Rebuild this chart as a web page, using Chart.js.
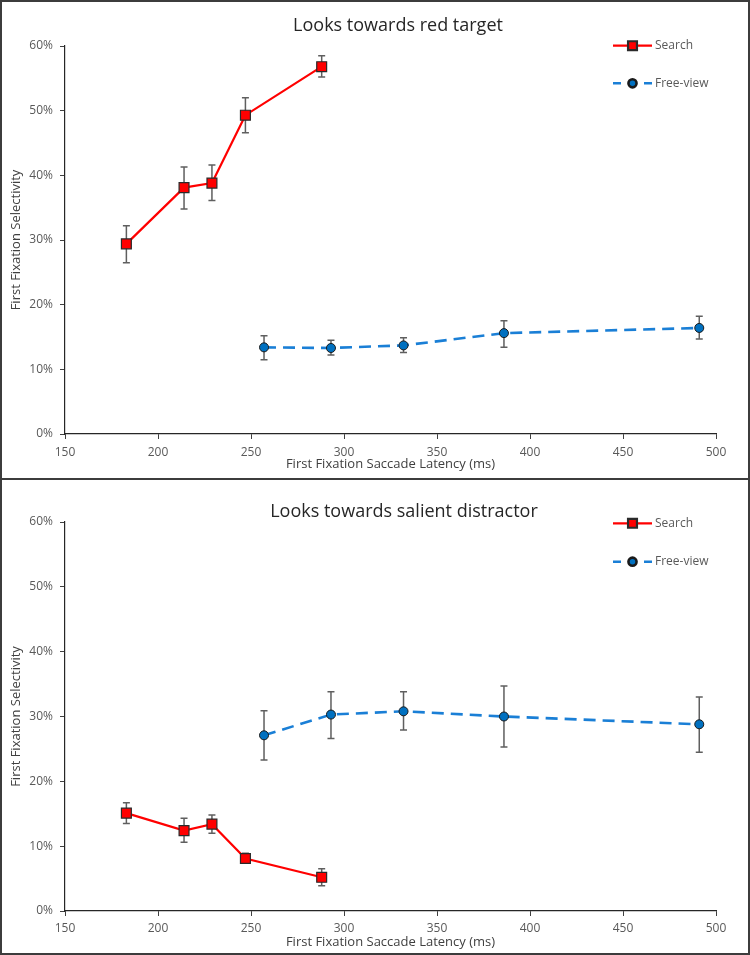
<!DOCTYPE html>
<html>
<head>
<meta charset="utf-8">
<title>First Fixation Selectivity</title>
<script src="https://cdn.jsdelivr.net/npm/chart.js@4.4.0/dist/chart.umd.min.js"></script>
<style>
    body { margin: 0; background: #fff; }
    .panel { position: relative; box-sizing: border-box; width: 750px; border: 2px solid #3c3c3c; background: #fff; }
    #panelTop { height: 480px; }
    #panelBottom { height: 477px; margin-top: -2px; }
    canvas { display: block; }
</style>
</head>
<body>
<div class="panel" id="panelTop"><canvas id="chartTarget" width="746" height="476"></canvas></div>
<div class="panel" id="panelBottom"><canvas id="chartDistractor" width="746" height="473"></canvas></div>
<script>
// 横軸（潜時 ms）
const latencySearch = [183, 214, 229, 247, 288];
const latencyFreeView = [257, 293, 332, 386, 491];
const latencyTicks = [150, 200, 250, 300, 350, 400, 450, 500];
const selectivityTicks = [0, 10, 20, 30, 40, 50, 60];

// 上段：赤ターゲット
const targetSearch = [29.4, 38.1, 38.8, 49.3, 56.8];
const targetSearchHigh = [32.2, 41.3, 41.6, 52.0, 58.5];
const targetSearchLow = [26.5, 34.8, 36.1, 46.6, 55.2];
const targetFree = [13.4, 13.3, 13.7, 15.6, 16.4];
const targetFreeHigh = [15.2, 14.5, 14.9, 17.5, 18.2];
const targetFreeLow = [11.5, 12.2, 12.6, 13.4, 14.7];

// 下段：顕著なディストラクタ
const distractorSearch = [15.1, 12.4, 13.4, 8.1, 5.2];
const distractorSearchHigh = [16.7, 14.3, 14.8, 8.9, 6.5];
const distractorSearchLow = [13.5, 10.6, 12.0, 7.4, 3.9];
const distractorFree = [27.1, 30.3, 30.8, 30.0, 28.8];
const distractorFreeHigh = [30.9, 33.8, 33.8, 34.7, 33.0];
const distractorFreeLow = [23.3, 26.6, 27.9, 25.3, 24.5];

const FONT = '"Open Sans", "Noto Sans", sans-serif';

// エラーバー描画
const errorBarPlugin = {
    id: 'errorBars',
    beforeDatasetsDraw(chart) {
        const ctx = chart.ctx;
        const xScale = chart.scales.x;
        const yScale = chart.scales.y;
        ctx.save();
        ctx.strokeStyle = '#5f5f5f';
        ctx.lineWidth = 1.5;
        chart.data.datasets.forEach(ds => {
            ds.data.forEach((pt, i) => {
                const x = xScale.getPixelForValue(pt.x);
                const yHi = yScale.getPixelForValue(ds.errorHigh[i]);
                const yLo = yScale.getPixelForValue(ds.errorLow[i]);
                ctx.beginPath();
                ctx.moveTo(x, yHi);
                ctx.lineTo(x, yLo);
                ctx.moveTo(x - 3.5, yHi);
                ctx.lineTo(x + 3.5, yHi);
                ctx.moveTo(x - 3.5, yLo);
                ctx.lineTo(x + 3.5, yLo);
                ctx.stroke();
            });
        });
        ctx.restore();
    }
};

// タイトルと凡例（グラフ領域の内側に重ねる）
const panelDecorPlugin = {
    id: 'panelDecor',
    afterDraw(chart, args, opts) {
        const ctx = chart.ctx;
        ctx.save();
        ctx.fillStyle = '#262626';
        ctx.font = '18px ' + FONT;
        ctx.textAlign = 'center';
        ctx.textBaseline = 'middle';
        ctx.fillText(opts.title, opts.titleX, opts.titleY);

        chart.data.datasets.forEach((ds, i) => {
            const y = opts.legendY[i];
            const x0 = opts.legendX;
            const x1 = x0 + 39;
            ctx.strokeStyle = ds.borderColor;
            ctx.lineWidth = ds.borderWidth;
            ctx.setLineDash(ds.borderDash ? [8, 23] : []);
            ctx.beginPath();
            ctx.moveTo(x0, y);
            ctx.lineTo(x1, y);
            ctx.stroke();
            ctx.setLineDash([]);
            ctx.fillStyle = ds.pointBackgroundColor;
            ctx.strokeStyle = ds.pointBorderColor;
            Chart.helpers.drawPoint(ctx, {
                pointStyle: ds.pointStyle,
                radius: ds.pointRadius * 0.9,
                borderWidth: ds.pointBorderWidth,
                rotation: 0
            }, (x0 + x1) / 2, y);
            ctx.fillStyle = '#595959';
            ctx.font = '12px ' + FONT;
            ctx.textAlign = 'left';
            ctx.fillText(ds.label, x1 + 3, y);
        });
        ctx.restore();
    }
};

function toPoints(xs, ys) {
    return xs.map((x, i) => ({ x: x, y: ys[i] }));
}

function searchDataset(values, high, low) {
    return {
        label: 'Search',
        data: toPoints(latencySearch, values),
        errorHigh: high,
        errorLow: low,
        borderColor: '#ff0000',
        borderWidth: 2.2,
        pointStyle: 'rect',
        pointRadius: 7,
        pointBackgroundColor: '#ff0000',
        pointBorderColor: '#2a2a2a',
        pointBorderWidth: 1.2,
        tension: 0
    };
}

function freeViewDataset(values, high, low) {
    return {
        label: 'Free-view',
        data: toPoints(latencyFreeView, values),
        errorHigh: high,
        errorLow: low,
        borderColor: '#1a7fd6',
        borderWidth: 2.6,
        borderDash: [12, 7],
        pointStyle: 'circle',
        pointRadius: 4.5,
        pointBackgroundColor: '#0070c0',
        pointBorderColor: '#1a1a1a',
        pointBorderWidth: 1,
        tension: 0
    };
}

function makeChart(canvasId, datasets, cfg) {
    const ctx = document.getElementById(canvasId).getContext('2d');
    return new Chart(ctx, {
        type: 'line',
        data: { datasets: datasets },
        plugins: [errorBarPlugin, panelDecorPlugin],
        options: {
            responsive: false,
            animation: false,
            layout: { padding: { top: cfg.top, right: 32, left: 0, bottom: 0 } },
            plugins: {
                legend: { display: false },
                tooltip: { enabled: false },
                panelDecor: {
                    title: cfg.title,
                    titleX: cfg.titleX,
                    titleY: cfg.titleY,
                    legendX: 611,
                    legendY: cfg.legendY
                }
            },
            scales: {
                x: {
                    type: 'linear',
                    min: 150,
                    max: 500,
                    afterBuildTicks: scale => { scale.ticks = latencyTicks.map(v => ({ value: v })); },
                    afterFit: scale => { scale.height = cfg.xAxisHeight; },
                    border: { color: '#262626', width: 1.2 },
                    grid: { drawOnChartArea: false, color: '#404040', tickLength: 5 },
                    ticks: { color: '#595959', font: { family: FONT, size: 12 }, padding: cfg.xTickPad, maxRotation: 0 },
                    title: {
                        display: true,
                        text: 'First Fixation Saccade Latency (ms)',
                        color: '#404040',
                        font: { family: FONT, size: 13 },
                        padding: { top: 0, bottom: cfg.xTitlePad }
                    }
                },
                y: {
                    min: 0,
                    max: 60,
                    afterBuildTicks: scale => { scale.ticks = selectivityTicks.map(v => ({ value: v })); },
                    afterFit: scale => { scale.width = 63; },
                    border: { color: '#262626', width: 1.2 },
                    grid: { drawOnChartArea: false, color: '#404040', tickLength: 5 },
                    ticks: {
                        color: '#595959',
                        font: { family: FONT, size: 12 },
                        padding: 7,
                        callback: v => v + '%'
                    },
                    title: {
                        display: true,
                        text: 'First Fixation Selectivity',
                        color: '#404040',
                        font: { family: FONT, size: 13 },
                        padding: { top: 6, bottom: 0 }
                    }
                }
            }
        }
    });
}

makeChart('chartTarget', [
    searchDataset(targetSearch, targetSearchHigh, targetSearchLow),
    freeViewDataset(targetFree, targetFreeHigh, targetFreeLow)
], {
    title: 'Looks towards red target',
    titleX: 396, titleY: 24,
    legendY: [43.7, 81.3],
    top: 44, xAxisHeight: 44, xTickPad: 6, xTitlePad: 6
});

makeChart('chartDistractor', [
    searchDataset(distractorSearch, distractorSearchHigh, distractorSearchLow),
    freeViewDataset(distractorFree, distractorFreeHigh, distractorFreeLow)
], {
    title: 'Looks towards salient distractor',
    titleX: 402, titleY: 32,
    legendY: [43.3, 81.7],
    top: 42, xAxisHeight: 42, xTickPad: 5, xTitlePad: 3
});
</script>
</body>
</html>
